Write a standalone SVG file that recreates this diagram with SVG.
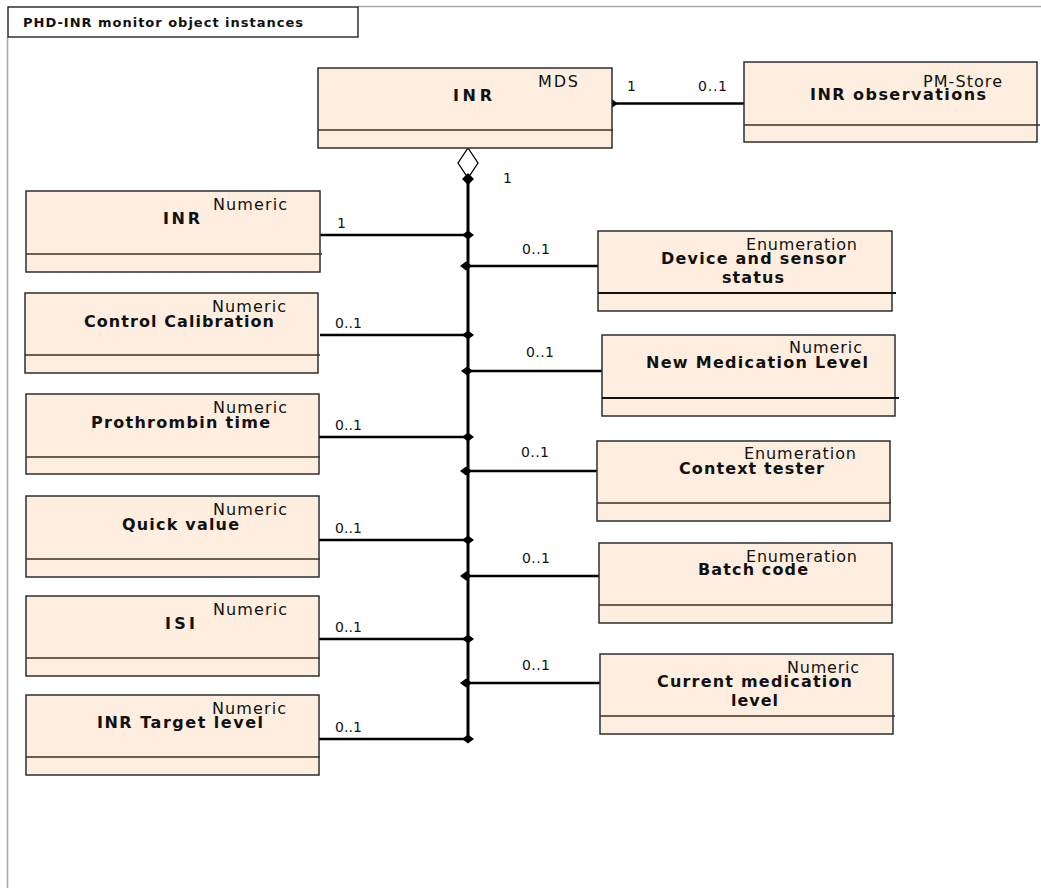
<svg xmlns="http://www.w3.org/2000/svg" width="1041" height="888" viewBox="0 0 1041 888">
<style>
text{font-family:"DejaVu Sans",Verdana,"Liberation Sans",sans-serif;fill:#111}
.box{fill:#fdeedf;stroke:#2e2e2e;stroke-width:1.5}
.div{stroke:#3d3025;stroke-width:1.3}
.divk{stroke:#111;stroke-width:1.8}
.ty{font-size:16px}
.nm{font-size:16px;font-weight:bold}
.lb{font-size:14px}
.ttl{font-size:13px;font-weight:bold}
.con{stroke:#000;stroke-width:2.5;fill:none}
.dia{fill:#000}
</style>
<rect width="1041" height="888" fill="#fff"/>
<g id="frame">
<path d="M358 6.5H1041M7.5 37V888" stroke="#aaa" stroke-width="1.6" fill="none"/>
<rect x="8" y="7" width="350" height="30" fill="#fff" stroke="#111" stroke-width="1.3"/>
<text class="ttl" x="23" y="27" textLength="280" lengthAdjust="spacing">PHD-INR monitor object instances</text>
</g>
<g id="connectors">
<path class="con" d="M612 103.5H745"/>
<path d="M468 178V739" stroke="#000" stroke-width="3"/>
<path class="con" d="M320 235H468M320 335H468M319 437H468M319 540H468M319 639H468M319 739H468"/>
<path class="con" d="M468 266H598M468 371H602M468 471H597M468 576H599M468 683H600"/>
<polygon points="468,148 478,163 468,178 458,163" fill="#fff" stroke="#000" stroke-width="1.3"/>
<polygon class="dia" points="468,173 474,179 468,185 462,179"/>
<polygon class="dia" points="604,103.5 611,98.5 618,103.5 611,108.5"/>
<g class="dia">
<polygon points="462,235 468,230.5 474,235 468,239.5"/>
<polygon points="462,335 468,330.5 474,335 468,339.5"/>
<polygon points="462,437 468,432.5 474,437 468,441.5"/>
<polygon points="462,540 468,535.5 474,540 468,544.5"/>
<polygon points="462,639 468,634.5 474,639 468,643.5"/>
<polygon points="462,739 468,734.5 474,739 468,743.5"/>
<polygon points="460,266 466,261.5 472,266 466,270.5"/>
<polygon points="461,371 467,366.5 473,371 467,375.5"/>
<polygon points="460,471 466,466.5 472,471 466,475.5"/>
<polygon points="460,576 466,571.5 472,576 466,580.5"/>
<polygon points="460,683 466,678.5 472,683 466,687.5"/>
</g>
<text class="lb" x="627" y="91">1</text>
<text class="lb" x="698" y="91" textLength="29" lengthAdjust="spacing">0..1</text>
<text class="lb" x="503" y="183">1</text>
<text class="lb" x="337" y="228">1</text>
<text class="lb" x="335" y="328" textLength="27" lengthAdjust="spacing">0..1</text>
<text class="lb" x="335" y="430" textLength="27" lengthAdjust="spacing">0..1</text>
<text class="lb" x="335" y="533" textLength="27" lengthAdjust="spacing">0..1</text>
<text class="lb" x="335" y="632" textLength="27" lengthAdjust="spacing">0..1</text>
<text class="lb" x="335" y="732" textLength="27" lengthAdjust="spacing">0..1</text>
<text class="lb" x="522" y="254" textLength="28" lengthAdjust="spacing">0..1</text>
<text class="lb" x="526" y="357" textLength="28" lengthAdjust="spacing">0..1</text>
<text class="lb" x="521" y="457" textLength="28" lengthAdjust="spacing">0..1</text>
<text class="lb" x="522" y="563" textLength="28" lengthAdjust="spacing">0..1</text>
<text class="lb" x="522" y="670" textLength="28" lengthAdjust="spacing">0..1</text>
</g>
<g id="mds">
<rect class="box" x="318" y="68" width="294" height="80"/>
<path class="div" d="M318 130H613"/>
<text class="ty" x="538" y="87" textLength="40" lengthAdjust="spacing">MDS</text>
<text class="nm" x="453" y="101" textLength="39" lengthAdjust="spacing">INR</text>
</g>
<g id="pmstore">
<rect class="box" x="744" y="62" width="293" height="80"/>
<path class="div" d="M744 125H1040"/>
<text class="ty" x="923" y="87" textLength="79" lengthAdjust="spacing">PM-Store</text>
<text class="nm" x="810" y="100" textLength="176" lengthAdjust="spacing">INR observations</text>
</g>
<g id="inr-numeric">
<rect class="box" x="26" y="191" width="294" height="81"/>
<path class="div" d="M26 254H322"/>
<text class="ty" x="213" y="210" textLength="74" lengthAdjust="spacing">Numeric</text>
<text class="nm" x="163" y="224" textLength="37" lengthAdjust="spacing">INR</text>
</g>
<g id="control-calibration">
<rect class="box" x="25" y="293" width="293" height="80"/>
<path class="div" d="M25 355H320"/>
<text class="ty" x="212" y="312" textLength="74" lengthAdjust="spacing">Numeric</text>
<text class="nm" x="84" y="327" textLength="190" lengthAdjust="spacing">Control Calibration</text>
</g>
<g id="prothrombin-time">
<rect class="box" x="26" y="394" width="293" height="80"/>
<path class="div" d="M26 457H320"/>
<text class="ty" x="213" y="413" textLength="74" lengthAdjust="spacing">Numeric</text>
<text class="nm" x="91" y="428" textLength="179" lengthAdjust="spacing">Prothrombin time</text>
</g>
<g id="quick-value">
<rect class="box" x="26" y="496" width="293" height="81"/>
<path class="div" d="M26 559H320"/>
<text class="ty" x="213" y="515" textLength="74" lengthAdjust="spacing">Numeric</text>
<text class="nm" x="122" y="530" textLength="117" lengthAdjust="spacing">Quick value</text>
</g>
<g id="isi">
<rect class="box" x="26" y="596" width="293" height="80"/>
<path class="div" d="M26 658H320"/>
<text class="ty" x="213" y="615" textLength="74" lengthAdjust="spacing">Numeric</text>
<text class="nm" x="165" y="629" textLength="30" lengthAdjust="spacing">ISI</text>
</g>
<g id="inr-target-level">
<rect class="box" x="26" y="695" width="293" height="80"/>
<path class="div" d="M26 757H320"/>
<text class="ty" x="212" y="714" textLength="74" lengthAdjust="spacing">Numeric</text>
<text class="nm" x="97" y="728" textLength="166" lengthAdjust="spacing">INR Target level</text>
</g>
<g id="device-sensor-status">
<rect class="box" x="598" y="231" width="294" height="80"/>
<path class="divk" d="M598 293H896"/>
<text class="ty" x="746" y="250" textLength="111" lengthAdjust="spacing">Enumeration</text>
<text class="nm" x="661" y="264" textLength="185" lengthAdjust="spacing">Device and sensor</text>
<text class="nm" x="722" y="283" textLength="62" lengthAdjust="spacing">status</text>
</g>
<g id="new-medication-level">
<rect class="box" x="602" y="335" width="293" height="81"/>
<path class="divk" d="M602 398H899"/>
<text class="ty" x="789" y="353" textLength="73" lengthAdjust="spacing">Numeric</text>
<text class="nm" x="646" y="368" textLength="222" lengthAdjust="spacing">New Medication Level</text>
</g>
<g id="context-tester">
<rect class="box" x="597" y="441" width="293" height="80"/>
<path class="div" d="M597 503H891"/>
<text class="ty" x="744" y="459" textLength="112" lengthAdjust="spacing">Enumeration</text>
<text class="nm" x="679" y="474" textLength="145" lengthAdjust="spacing">Context tester</text>
</g>
<g id="batch-code">
<rect class="box" x="599" y="543" width="293" height="80"/>
<path class="div" d="M599 605H893"/>
<text class="ty" x="746" y="562" textLength="111" lengthAdjust="spacing">Enumeration</text>
<text class="nm" x="698" y="575" textLength="110" lengthAdjust="spacing">Batch code</text>
</g>
<g id="current-medication-level">
<rect class="box" x="600" y="654" width="293" height="80"/>
<path class="div" d="M600 716H895"/>
<text class="ty" x="787" y="673" textLength="72" lengthAdjust="spacing">Numeric</text>
<text class="nm" x="657" y="687" textLength="195" lengthAdjust="spacing">Current medication</text>
<text class="nm" x="731" y="706" textLength="47" lengthAdjust="spacing">level</text>
</g>
</svg>
